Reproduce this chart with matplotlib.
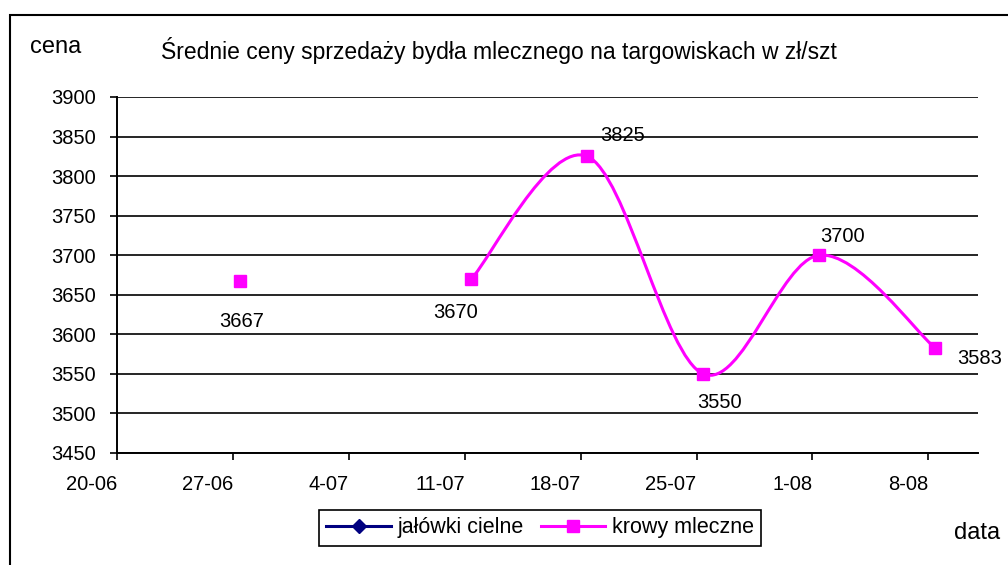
import numpy as np
import pandas as pd
import matplotlib
matplotlib.use("Agg")
import matplotlib.pyplot as plt
import matplotlib.dates as mdates
from matplotlib.path import Path
from matplotlib.patches import PathPatch, Rectangle

plt.rcParams['font.family'] = ['Liberation Sans', 'DejaVu Sans']

# dane - ceny w zl/szt
daty = ['2007-06-27', '2007-07-04', '2007-07-11', '2007-07-18',
        '2007-07-25', '2007-08-01', '2007-08-08']
krowy_mleczne = [3667, np.nan, 3670, 3825, 3550, 3700, 3583]
jalowki_cielne = [np.nan, np.nan, np.nan, np.nan, np.nan, np.nan, np.nan]
etykiety = ['3667', '', '3670', '3825', '3550', '3700', '3583']
# przesuniecia etykiet (piksele)
przes = [(2, -40), None, (-16, -34), (35, 21), (16, -29), (23, 19), (45, -11)]

rozowy = '#FF00FF'
granat = '#000080'
fs = 14.5

x = mdates.date2num(pd.to_datetime(daty)) + 0.4  # srodek dnia jak w Excelu
y = np.array(krowy_mleczne, dtype=float)

fig = plt.figure(figsize=(10.08, 5.65), dpi=100)
ax = fig.add_axes([117/1008, 1 - 453/565, (978-117)/1008, (453-97)/565])

# wygladzona linia (krzywe Beziera jak w Excelu) dla ciaglego fragmentu
ok = ~np.isnan(y)
idx = np.where(ok)[0]
seg = [i for i in idx if i >= 2]
pts = np.column_stack([x[seg], y[seg]])
verts = [tuple(pts[0])]
codes = [Path.MOVETO]
n = len(pts)
for i in range(n - 1):
    p0 = pts[max(i - 1, 0)]
    p1 = pts[i]
    p2 = pts[i + 1]
    p3 = pts[min(i + 2, n - 1)]
    c1 = p1 + (p2 - p0) / 6
    c2 = p2 - (p3 - p1) / 6
    verts += [tuple(c1), tuple(c2), tuple(p2)]
    codes += [Path.CURVE4] * 3
ax.add_patch(PathPatch(Path(verts, codes), fill=False, edgecolor=rozowy,
                       lw=2.2, zorder=3))

ax.plot(x, y, linestyle='none', marker='s', markersize=8.5, color=rozowy,
        zorder=4)
# do legendy
ax.plot(x, jalowki_cielne, color=granat, marker='D', markersize=7, lw=2.2,
        label='jałówki cielne')
ax.plot([], [], color=rozowy, marker='s', markersize=8.5, lw=2.2,
        label='krowy mleczne')

for xi, yi, t, o in zip(x, y, etykiety, przes):
    if o is None:
        continue
    ax.annotate(t, (xi, yi), xytext=o, textcoords='offset pixels',
                ha='center', va='center', fontsize=fs)

ax.set_ylim(3450, 3900)
ax.set_yticks(np.arange(3450, 3901, 50))
ax.yaxis.grid(True, color='black', lw=1.2)
ax.set_axisbelow(True)

start = mdates.date2num(pd.Timestamp('2007-06-20'))
ax.set_xlim(start, start + 52)
ax.set_xticks(start + np.arange(0, 50, 7))
ax.xaxis.set_major_formatter(mdates.DateFormatter('%-d-%m'))
for lab in ax.get_xticklabels():
    lab.set_horizontalalignment('right')

ax.spines['top'].set_visible(False)
ax.spines['right'].set_visible(False)
ax.spines['left'].set_linewidth(1.4)
ax.spines['bottom'].set_linewidth(1.4)
ax.tick_params(axis='y', direction='out', length=5, width=1.2, pad=10,
               labelsize=fs)
ax.tick_params(axis='x', direction='out', length=5, width=1.2, pad=11,
               labelsize=fs)

fig.text(161/1008, 1 - 50/565, 'Średnie ceny sprzedaży bydła mlecznego na targowiskach w zł/szt',
         ha='left', va='center', fontsize=16.5)
fig.text(30/1008, 1 - 47/565, 'cena', ha='left', va='center', fontsize=17)
fig.text(1000/1008, 1 - 533/565, 'data', ha='right', va='center', fontsize=17)

leg = fig.legend(loc='center', bbox_to_anchor=(540/1008, 1 - 528/565),
                 ncol=2, fontsize=15.5, fancybox=False, framealpha=1,
                 edgecolor='black', handlelength=3, columnspacing=0.8,
                 handletextpad=0.3, borderpad=0.35)
leg.get_frame().set_linewidth(1.2)

fig.patches.append(Rectangle((10/1008, -0.05), 1.1, 1 - 15/565 + 0.05,
                             transform=fig.transFigure, fill=False,
                             edgecolor='black', lw=1.5))

fig.savefig('out.png', dpi=100)
